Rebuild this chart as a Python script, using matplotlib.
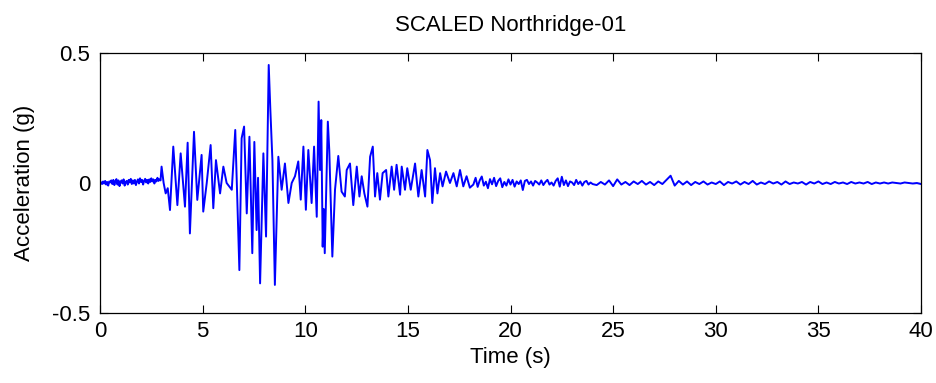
import numpy as np
import matplotlib
matplotlib.use("Agg")
import matplotlib.pyplot as plt

plt.rcParams["font.family"] = ["Liberation Sans", "DejaVu Sans"]

# Pre-event noise, sampled every 0.05 s from 0 to 3.0 s
pre_accel = [0.000, 0.003, -0.004, 0.006, -0.002, 0.008, -0.006, 0.004, -0.010, 0.006,
             0.002, 0.010, -0.004, 0.012, -0.008, 0.006, 0.015, -0.006, 0.010, -0.012,
             0.004, 0.010, -0.002, 0.014, -0.010, 0.004, 0.008, -0.006, 0.012, 0.002,
             0.016, -0.004, 0.010, -0.002, 0.012, -0.008, 0.006, 0.014, -0.002, 0.018,
             0.004, 0.012, -0.006, 0.008, 0.016, 0.002, 0.012, -0.002, 0.014, 0.004,
             0.018, 0.006, 0.014, -0.002, 0.012, 0.006, 0.020, 0.008, 0.014, 0.010,
             0.012]

# Strong-motion phase: peak/trough times (s) and accelerations (g)
strong_time = [3.00, 3.10, 3.20, 3.30, 3.41, 3.57, 3.77, 3.93, 4.14, 4.27,
               4.38, 4.58, 4.74, 4.95, 5.03, 5.20, 5.39, 5.52, 5.65, 5.85,
               6.01, 6.17, 6.42, 6.59, 6.79, 6.90, 7.02, 7.15, 7.28, 7.42,
               7.52, 7.63, 7.70, 7.80, 7.96, 8.09, 8.22, 8.30, 8.40, 8.52,
               8.69, 8.85, 9.01, 9.18, 9.34, 9.50, 9.66, 9.78, 9.91, 10.03,
               10.15, 10.31, 10.43, 10.56, 10.65, 10.72, 10.78, 10.85, 10.90, 10.95,
               11.10, 11.17, 11.32, 11.45, 11.61, 11.77, 11.93, 12.02, 12.18, 12.34,
               12.51, 12.64, 12.75, 12.88, 13.03, 13.16, 13.29, 13.40, 13.51, 13.64,
               13.77, 13.94, 14.05, 14.21, 14.33, 14.45, 14.62, 14.70, 14.86, 14.97,
               15.14, 15.35, 15.51, 15.67, 15.84, 15.95, 16.08, 16.19, 16.32, 16.44,
               16.57, 16.69, 16.86, 17.05, 17.22, 17.38, 17.54, 17.70, 17.86, 18.02,
               18.19]
strong_accel = [0.063, 0.000, -0.040, -0.020, -0.104, 0.140, -0.085, 0.114, -0.091, 0.155,
                -0.194, 0.197, -0.065, 0.108, -0.110, 0.000, 0.146, -0.097, 0.088, -0.040,
                0.063, 0.000, -0.026, 0.204, -0.335, 0.172, 0.217, -0.117, 0.178, -0.270,
                0.158, -0.181, 0.020, -0.386, 0.114, -0.206, 0.454, 0.281, 0.088, -0.392,
                0.101, -0.026, 0.075, -0.077, 0.000, 0.026, 0.083, -0.064, 0.140, -0.103,
                0.127, -0.077, 0.140, -0.130, 0.313, 0.050, 0.242, -0.245, -0.100, -0.270,
                0.236, 0.127, -0.283, -0.026, 0.104, -0.033, -0.052, 0.050, 0.075, -0.085,
                0.063, -0.052, 0.026, -0.040, -0.091, 0.101, 0.140, -0.052, 0.038, -0.064,
                0.038, 0.050, -0.052, 0.063, -0.026, 0.070, -0.045, 0.063, -0.026, 0.057,
                -0.026, 0.075, -0.052, 0.050, -0.052, 0.127, 0.088, -0.077, 0.057, -0.040,
                0.038, -0.013, 0.044, 0.000, 0.038, -0.013, 0.050, -0.013, 0.026, -0.018,
                -0.006]

# Early coda, sampled every 0.1 s from 18.3 s to 24.0 s
coda_early_accel = [0.020, -0.015, 0.010, 0.025, -0.010, 0.005, -0.020, 0.015, -0.005, 0.020,
                    -0.012, 0.008, 0.018, -0.016, 0.004, -0.010, 0.014, -0.006, 0.012, -0.014,
                    0.006, -0.004, 0.010, -0.027, 0.008, 0.012, -0.004, 0.006, -0.010, 0.008,
                    0.002, -0.006, 0.010, -0.008, 0.004, 0.012, -0.006, 0.002, -0.010, 0.008,
                    0.018, -0.014, 0.024, -0.008, 0.010, -0.012, 0.006, 0.002, -0.008, 0.012,
                    -0.004, 0.006, -0.010, 0.004, 0.008, -0.006, 0.002, -0.004]

# Late coda, sampled every 0.2 s from 24.2 s to 40 s
coda_late_accel = [-0.008, 0.004, -0.006, 0.010, -0.012, 0.014, -0.006, 0.004, -0.008, 0.006,
                   -0.004, 0.008, -0.006, 0.004, -0.008, 0.006, -0.004, 0.012, 0.028, -0.010,
                   0.008, -0.006, 0.006, -0.008, 0.004, -0.004, 0.006, -0.006, 0.002, -0.004,
                   0.006, -0.008, 0.004, -0.002, 0.006, -0.006, 0.004, -0.004, 0.008, -0.006,
                   0.002, -0.004, 0.006, -0.002, 0.004, -0.006, 0.006, -0.004, 0.002, -0.002,
                   0.004, -0.006, 0.004, -0.002, 0.006, -0.004, 0.002, -0.004, 0.004, -0.002,
                   0.002, -0.004, 0.004, -0.002, 0.002, -0.002, 0.004, -0.004, 0.002, -0.002,
                   0.002, -0.002, 0.002, 0.000, -0.002, 0.002, 0.000, -0.002, 0.000, -0.004]

pre_time = np.linspace(0.0, 3.0, len(pre_accel))[:-1]
coda_early_time = np.linspace(18.3, 24.0, len(coda_early_accel))
coda_late_time = np.linspace(24.2, 40.0, len(coda_late_accel))

time_s = np.concatenate([pre_time, strong_time, coda_early_time, coda_late_time])
accel_g = np.concatenate([pre_accel[:-1], strong_accel, coda_early_accel, coda_late_accel])

x_ticks = [0, 5, 10, 15, 20, 25, 30, 35, 40]
y_ticks = [-0.5, 0, 0.5]
y_tick_labels = ["-0.5", "0", "0.5"]

fig = plt.figure(figsize=(9.36, 3.83), dpi=100)
ax = fig.add_axes([100 / 936, 1 - 313 / 383, 821 / 936, 260 / 383])
ax.plot(time_s, accel_g, color="#0000ff", linewidth=1.4)

ax.set_xlim(0, 40)
ax.set_ylim(-0.5, 0.5)
ax.set_xticks(x_ticks)
ax.set_xticklabels([str(v) for v in x_ticks])
ax.set_yticks(y_ticks)
ax.set_yticklabels(y_tick_labels)
ax.tick_params(direction="in", length=6, width=0.8, top=True, right=True,
               labelsize=16, colors="black")
ax.tick_params(axis="y", pad=7)
ax.tick_params(axis="x", pad=6)
for s in ax.spines.values():
    s.set_linewidth(0.9)

ax.set_xlabel("Time (s)", fontsize=16, labelpad=3)
ax.set_ylabel("Acceleration (g)", fontsize=16, labelpad=12)
ax.set_title("SCALED Northridge-01", fontsize=16, pad=16)

fig.savefig("out.png", dpi=100, facecolor="white")
